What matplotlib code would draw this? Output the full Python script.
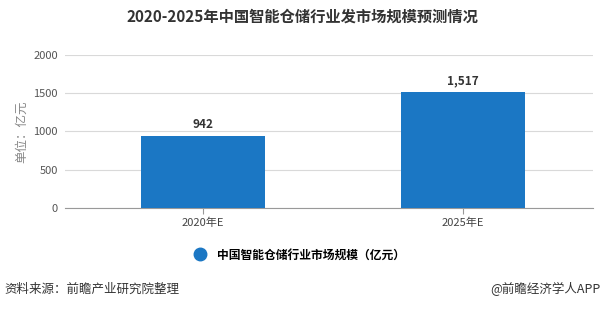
import matplotlib
matplotlib.use('Agg')
import matplotlib.pyplot as plt
from matplotlib.lines import Line2D

plt.rcParams['font.family'] = ['Noto Sans CJK SC', 'DejaVu Sans']

categories = ['2020年E', '2025年E']
values = [942, 1517]
value_labels = ['942', '1,517']
yticks = [0, 500, 1000, 1500, 2000]

bar_color = '#1b77c4'

fig = plt.figure(figsize=(6.05, 3.09), dpi=100)
ax = fig.add_axes([0.107, 0.327, 0.873, 0.495])

x = range(len(categories))
ax.bar(x, values, width=0.477, color=bar_color, zorder=3)
for i, v in enumerate(values):
    ax.text(i, v + 60, value_labels[i], ha='center', va='bottom',
            fontsize=8.5, fontweight='bold', color='#333333')

ax.set_xlim(-0.53, 1.5)
ax.set_ylim(0, 2000)
ax.set_yticks(yticks)
ax.set_yticklabels([str(t) for t in yticks], fontsize=8, color='#555555')
ax.set_xticks(list(x))
ax.set_xticklabels(categories, fontsize=8, color='#444444')
ax.grid(axis='y', color='#d9d9d9', linewidth=0.8, zorder=0)
for s in ['top', 'right', 'left']:
    ax.spines[s].set_visible(False)
ax.spines['bottom'].set_color('#999999')
ax.tick_params(axis='y', length=0, pad=5)
ax.tick_params(axis='x', length=4, color='#999999', pad=3)
ax.set_ylabel('单位：亿元', fontsize=9, color='#888888')
ax.yaxis.set_label_coords(-0.07, 0.5)

fig.text(0.5, 0.945, '2020-2025年中国智能仓储行业发市场规模预测情况',
         ha='center', va='center', fontsize=11, fontweight='bold', color='#333333')

handle = Line2D([], [], marker='o', linestyle='', markersize=9,
                markerfacecolor=bar_color, markeredgecolor=bar_color)
fig.legend([handle], ['中国智能仓储行业市场规模（亿元）'], loc='center',
           bbox_to_anchor=(0.49, 0.175), frameon=False,
           handletextpad=0.4, prop={'weight': 'bold', 'size': 8.5})

fig.text(0.008, 0.065, '资料来源：前瞻产业研究院整理', ha='left', va='center',
         fontsize=9, color='#333333')
fig.text(0.993, 0.065, '@前瞻经济学人APP', ha='right', va='center',
         fontsize=9, color='#333333')

fig.savefig('out.png', dpi=100)
